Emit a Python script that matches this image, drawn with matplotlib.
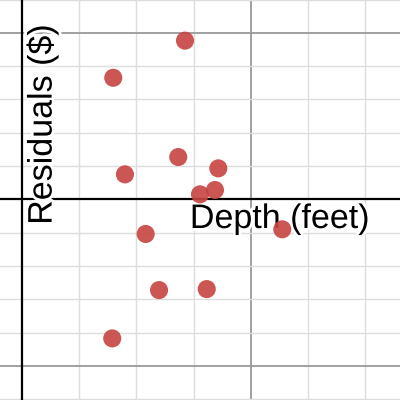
import matplotlib
matplotlib.use('Agg')
import matplotlib.pyplot as plt
import matplotlib.patheffects as pe
import numpy as np

# residuals
depth = [14.25, 7.98, 13.66, 9.00, 17.16, 16.87, 15.56, 22.75, 10.81, 11.98, 16.15, 7.89]
residual = [9.53, 7.30, 2.54, 1.50, 1.86, 0.56, 0.30, -1.80, -2.08, -5.45, -5.39, -8.35]

x_label = 'Depth (feet)'
y_label = 'Residuals ($)'

plt.rcParams['font.family'] = ['Liberation Sans', 'DejaVu Sans']

fig = plt.figure(figsize=(4, 4), dpi=100)
ax = fig.add_axes([0, 0, 1, 1])
ax.set_xlim(-1.92, 33.04)
ax.set_ylim(-12.05, 11.97)

# desmos style grid
for x in np.arange(5, 35, 5):
    major = x % 20 == 0
    ax.axvline(x, color='#999999' if major else '#dddddd', lw=1.3 if major else 1.0, zorder=0)
for y in np.arange(-12, 13, 2):
    if y == 0:
        continue
    major = y % 10 == 0
    ax.axhline(y, color='#999999' if major else '#dddddd', lw=1.3 if major else 1.0, zorder=0)
ax.axhline(0, color='black', lw=1.6, zorder=1)
ax.axvline(0, color='black', lw=1.6, zorder=1)

halo = [pe.withStroke(linewidth=4, foreground='white')]
ax.text(0.925, 0.43, x_label, transform=ax.transAxes, fontsize=24.5,
        ha='right', va='baseline', zorder=2, path_effects=halo)
ax.text(0.129, 0.438, y_label, transform=ax.transAxes, fontsize=24.5,
        rotation=90, rotation_mode='anchor', ha='left', va='baseline',
        zorder=2, path_effects=halo)

ax.scatter(depth, residual, s=170, color='#c74440', alpha=0.9,
           edgecolors='none', zorder=3)

ax.set_axis_off()
fig.savefig('out.png', dpi=100)
